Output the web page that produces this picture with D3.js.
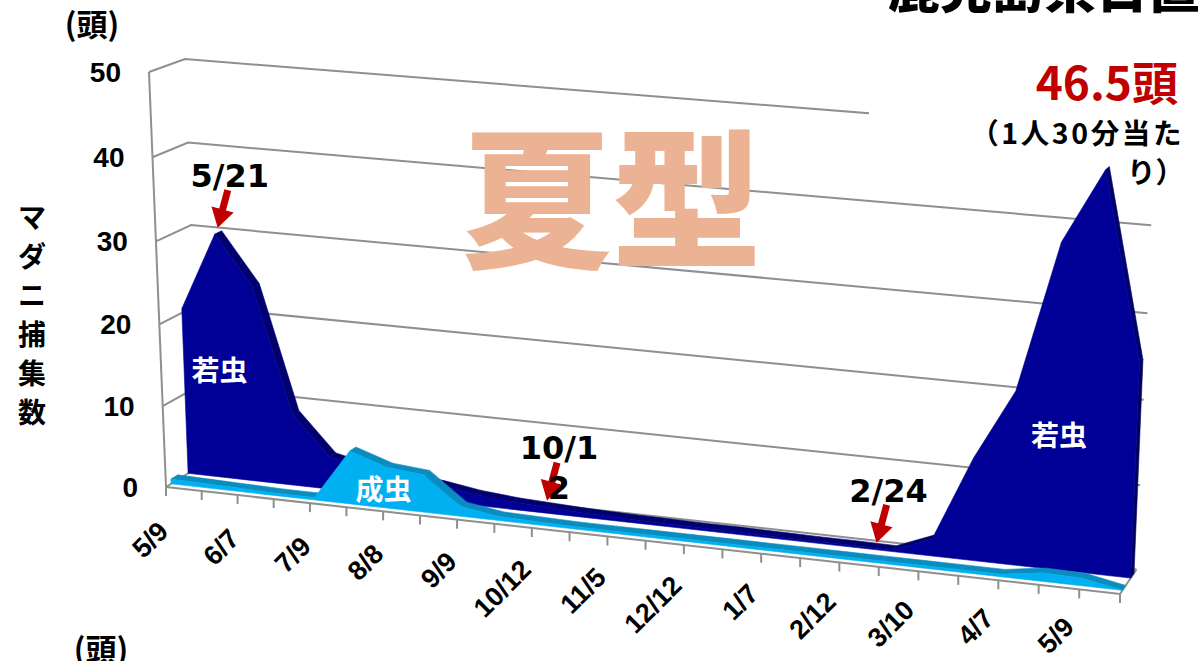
<!DOCTYPE html>
<html>
<head>
<meta charset="utf-8">
<script src="https://cdn.jsdelivr.net/npm/d3@7"></script>
<style>
  html, body { margin: 0; padding: 0; background: #ffffff; }
  svg { display: block; }
</style>
</head>
<body>
<svg id="chart" width="1201" height="661"></svg>
<script>
// Survey dates (every other date is printed on the category axis)
const dates = ["5/9","5/21","6/7","6/21","7/9","7/23","8/8","8/22","9/9","9/24","10/12","10/24",
               "11/5","11/20","12/12","12/25","1/7","1/24","2/12","2/24","3/10","3/24","4/7","4/21","5/9","5/23"];

// Ticks collected per person per 30 minutes
const nymphs = [20.5, 30, 24, 8.8, 4, 3, 2.5, 2, 1.3, 0.9, 0.7, 0.5, 0.4,
                0.35, 0.3, 0.3, 0.25, 0.2, 0.2, 0.15, 2, 12.2, 20.5, 38, 46.5, 25];
const adults = [0.6, 0.5, 0.4, 0.3, 0.3, 6.5, 5, 4.6, 1.2, 0.5, 0.4, 0.3, 0.3,
                0.3, 0.3, 0.3, 0.3, 0.3, 0.3, 0.3, 0.3, 0.3, 0.3, 1.0, 0.9, 0];

const valueTicks = [0, 10, 20, 30, 40, 50];
const seriesNames = ["若虫", "成虫"];
const axisTitle = "マダニ捕集数";
const unitLabel = "(頭)";
const peakNote = ["46.5頭", "（1人30分当た", "り）"];
const seasonTitle = "夏型";
const headTitle = "鹿児島県日置市";

// Dates pointed out with arrows
const callouts = [
  { idx: 1,  lines: ["5/21"] },
  { idx: 10, lines: ["10/1", "2"] },
  { idx: 19, lines: ["2/24"] }
];

const svg = d3.select("#chart");

// ---- 3D box: projective maps of the front plane and the back wall ----
function quadMap(p00, p10, p11, p01) {
  const [x0, y0] = p00, [x1, y1] = p10, [x2, y2] = p11, [x3, y3] = p01;
  const dx1 = x1 - x2, dx2 = x3 - x2, dx3 = x0 - x1 + x2 - x3;
  const dy1 = y1 - y2, dy2 = y3 - y2, dy3 = y0 - y1 + y2 - y3;
  const den = dx1 * dy2 - dx2 * dy1;
  const g = (dx3 * dy2 - dx2 * dy3) / den;
  const h = (dx1 * dy3 - dx3 * dy1) / den;
  const a = x1 - x0 + g * x1, b = x3 - x0 + h * x3, c = x0;
  const d = y1 - y0 + g * y1, e = y3 - y0 + h * y3, f = y0;
  return (u, v) => {
    const z = g * u + h * v + 1;
    return [(a * u + b * v + c) / z, (d * u + e * v + f) / z];
  };
}

const frontPlane = quadMap([166, 487], [1120, 594], [1136.5, 152], [149, 72]);
const backWall   = quadMap([200, 466], [1136.5, 569.5], [1155, 136], [185, 59]);

// u: along categories, t: value (0..1), w: depth (0 front .. 1 back)
function project(u, t, w) {
  const f = frontPlane(u, t), b = backWall(u, t);
  return [f[0] + (b[0] - f[0]) * w, f[1] + (b[1] - f[1]) * w];
}

const xScale = d3.scaleLinear().domain([0, dates.length - 1]).range([0, 1]);
const yScale = d3.scaleLinear().domain([0, 50]).range([0, 1]);

// depth slots of the two series
const rowAdult = [0.15, 0.35];
const rowNymph = [0.65, 0.85];

const line = d3.line();
const GRID = "#8f8f8f";

// ---- walls: gridlines on side wall and back wall ----
const gWalls = svg.append("g");
valueTicks.forEach(v => {
  const t = yScale(v);
  gWalls.append("path")
    .attr("d", line([project(0, t, 0), project(0, t, 1), project(1, t, 1)]))
    .attr("fill", "none").attr("stroke", GRID).attr("stroke-width", 2);
});
// value axis line (front-left edge)
gWalls.append("path")
  .attr("d", line([project(0, 0, 0), project(0, 1, 0)]))
  .attr("fill", "none").attr("stroke", GRID).attr("stroke-width", 2);

// white backing of the note box in the upper right
svg.append("rect").attr("x", 869).attr("y", 44).attr("width", 332).attr("height", 104).attr("fill", "#fff");

// ---- floor edges and category ticks ----
const gFloor = svg.append("g");
gFloor.append("path")
  .attr("d", line([project(0, 0, 0), project(1, 0, 0), project(1, 0, 1)]))
  .attr("fill", "none").attr("stroke", GRID).attr("stroke-width", 2);
dates.forEach((d, i) => {
  const p = project(xScale(i), 0, 0);
  gFloor.append("line")
    .attr("x1", p[0]).attr("y1", p[1]).attr("x2", p[0]).attr("y2", p[1] + 9)
    .attr("stroke", GRID).attr("stroke-width", 2);
});

// ---- 3D area slabs ----
function slab(values, row, fill, topFill, capFill) {
  const g = svg.append("g");
  const [w0, w1] = row;
  const n = values.length;
  const F = (i, v) => project(xScale(i), yScale(v), w0);
  const B = (i, v) => project(xScale(i), yScale(v), w1);
  const frontPoly = values.map((v, i) => F(i, v)).concat([F(n - 1, 0), F(0, 0)]);
  const sgn = Math.sign(d3.polygonArea(frontPoly));
  const faces = [];
  faces.push({ pts: [F(n - 1, 0), F(n - 1, values[n - 1]), B(n - 1, values[n - 1]), B(n - 1, 0)], fill: capFill });
  faces.push({ pts: [F(0, 0), B(0, 0), B(0, values[0]), F(0, values[0])], fill: capFill });
  for (let i = 0; i < n - 1; i++) {
    faces.push({ pts: [F(i, values[i]), B(i, values[i]), B(i + 1, values[i + 1]), F(i + 1, values[i + 1])], fill: topFill });
  }
  faces.filter(f => Math.sign(d3.polygonArea(f.pts)) === sgn && Math.abs(d3.polygonArea(f.pts)) > 0.01)
    .forEach(f => {
      g.append("path").attr("d", "M" + f.pts.join("L") + "Z")
        .attr("fill", f.fill).attr("stroke", f.fill).attr("stroke-width", 0.6).attr("stroke-linejoin", "round");
    });
  g.append("path").attr("d", "M" + frontPoly.join("L") + "Z")
    .attr("fill", fill).attr("stroke", fill).attr("stroke-width", 0.6).attr("stroke-linejoin", "round");
}

slab(nymphs, rowNymph, "#000096", "#00006e", "#00005c");
slab(adults, rowAdult, "#00b0f0", "#0a8cbe", "#0879a8");

// ---- value axis labels ----
const gLabels = svg.append("g").attr("font-family", "'Liberation Sans', Arial, sans-serif").attr("font-weight", "bold");
valueTicks.forEach(v => {
  const p = project(0, yScale(v), 0);
  gLabels.append("text")
    .attr("x", p[0] - 28).attr("y", p[1])
    .attr("text-anchor", "end").attr("dominant-baseline", "central")
    .attr("font-size", 28).attr("fill", "#000").text(v);
});

// ---- category labels, every other date, slanted ----
dates.forEach((d, i) => {
  if (i % 2) return;
  const u = xScale(i);
  const p = project(u, 0, 0);
  const dx = 4 - 8 * u, dy = 46 - 7 * u;
  gLabels.append("text")
    .attr("transform", `translate(${p[0] + dx},${p[1] + dy}) rotate(-45)`)
    .attr("text-anchor", "end")
    .attr("font-size", 27).attr("fill", "#000").text(d);
});

// ---- series names inside the areas ----
const jp = "'Noto Sans CJK JP', sans-serif";
const nameSpots = [
  { text: seriesNames[0], i: 1.0, v: 13.5, w: rowNymph[0] },
  { text: seriesNames[0], i: 23.1, v: 16, w: rowNymph[0] },
  { text: seriesNames[1], i: 5.9, v: 2.4, w: rowAdult[0] }
];
nameSpots.forEach(s => {
  const p = project(xScale(s.i), yScale(s.v), s.w);
  svg.append("text").attr("x", p[0]).attr("y", p[1])
    .attr("text-anchor", "middle").attr("dominant-baseline", "central")
    .attr("font-family", jp).attr("font-weight", "bold").attr("font-size", 28)
    .attr("fill", "#fff").text(s.text);
});

// ---- arrows with dates ----
const arrowShape = [[-3.5, -39], [3.5, -39], [3.5, -19], [11.5, -19], [0, 0], [-11.5, -19], [-3.5, -19]];
const calloutOffset = { 1: [-4, -3], 10: [-8, -3], 19: [-20, -3] };
callouts.forEach(c => {
  const a = project(xScale(c.idx), yScale(nymphs[c.idx]), rowNymph[1]);
  const off = calloutOffset[c.idx];
  const tip = [a[0] + off[0], a[1] + off[1]];
  svg.append("path")
    .attr("transform", `translate(${tip[0]},${tip[1]}) rotate(15)`)
    .attr("d", "M" + arrowShape.join("L") + "Z")
    .attr("fill", "#c00000");
  c.lines.forEach((ln, k) => {
    svg.append("text")
      .attr("x", tip[0] + 12).attr("y", tip[1] - 41 + k * 40)
      .attr("text-anchor", "middle")
      .attr("font-family", "'DejaVu Sans', sans-serif").attr("font-weight", "bold")
      .attr("font-size", 32).attr("fill", "#000").text(ln);
  });
});

// ---- titles and notes ----
svg.append("text").attr("x", 612).attr("y", 256).attr("text-anchor", "middle")
  .attr("font-family", jp).attr("font-weight", 900).attr("font-size", 150)
  .attr("fill", "#ebb294").text(seasonTitle);

svg.append("text").attr("x", 888).attr("y", 8)
  .attr("font-family", jp).attr("font-weight", 900).attr("font-size", 52)
  .attr("fill", "#000").text(headTitle);

svg.append("text").attr("x", 1178).attr("y", 100).attr("text-anchor", "end")
  .attr("font-family", jp).attr("font-weight", "bold").attr("font-size", 46)
  .attr("fill", "#c00000").text(peakNote[0]);
svg.append("text").attr("x", 1184).attr("y", 144).attr("text-anchor", "end")
  .attr("font-family", jp).attr("font-weight", "bold").attr("font-size", 28.5)
  .attr("letter-spacing", 2.6)
  .attr("fill", "#000").text(peakNote[1]);
svg.append("text").attr("x", 1184).attr("y", 183).attr("text-anchor", "end")
  .attr("font-family", jp).attr("font-weight", "bold").attr("font-size", 28.5)
  .attr("fill", "#000").text(peakNote[2]);

// unit labels
svg.append("text").attr("x", 92).attr("y", 36).attr("text-anchor", "middle")
  .attr("font-family", jp).attr("font-weight", "bold").attr("font-size", 31)
  .attr("fill", "#000").text(unitLabel);
svg.append("text").attr("x", 101).attr("y", 661).attr("text-anchor", "middle")
  .attr("font-family", jp).attr("font-weight", "bold").attr("font-size", 31)
  .attr("fill", "#000").text(unitLabel);

// vertical axis title, one character per row
Array.from(axisTitle).forEach((ch, k) => {
  svg.append("text").attr("x", 32).attr("y", 216 + k * 39)
    .attr("text-anchor", "middle").attr("dominant-baseline", "central")
    .attr("font-family", jp).attr("font-weight", "bold").attr("font-size", 28)
    .attr("fill", "#000").text(ch);
});
</script>
</body>
</html>
